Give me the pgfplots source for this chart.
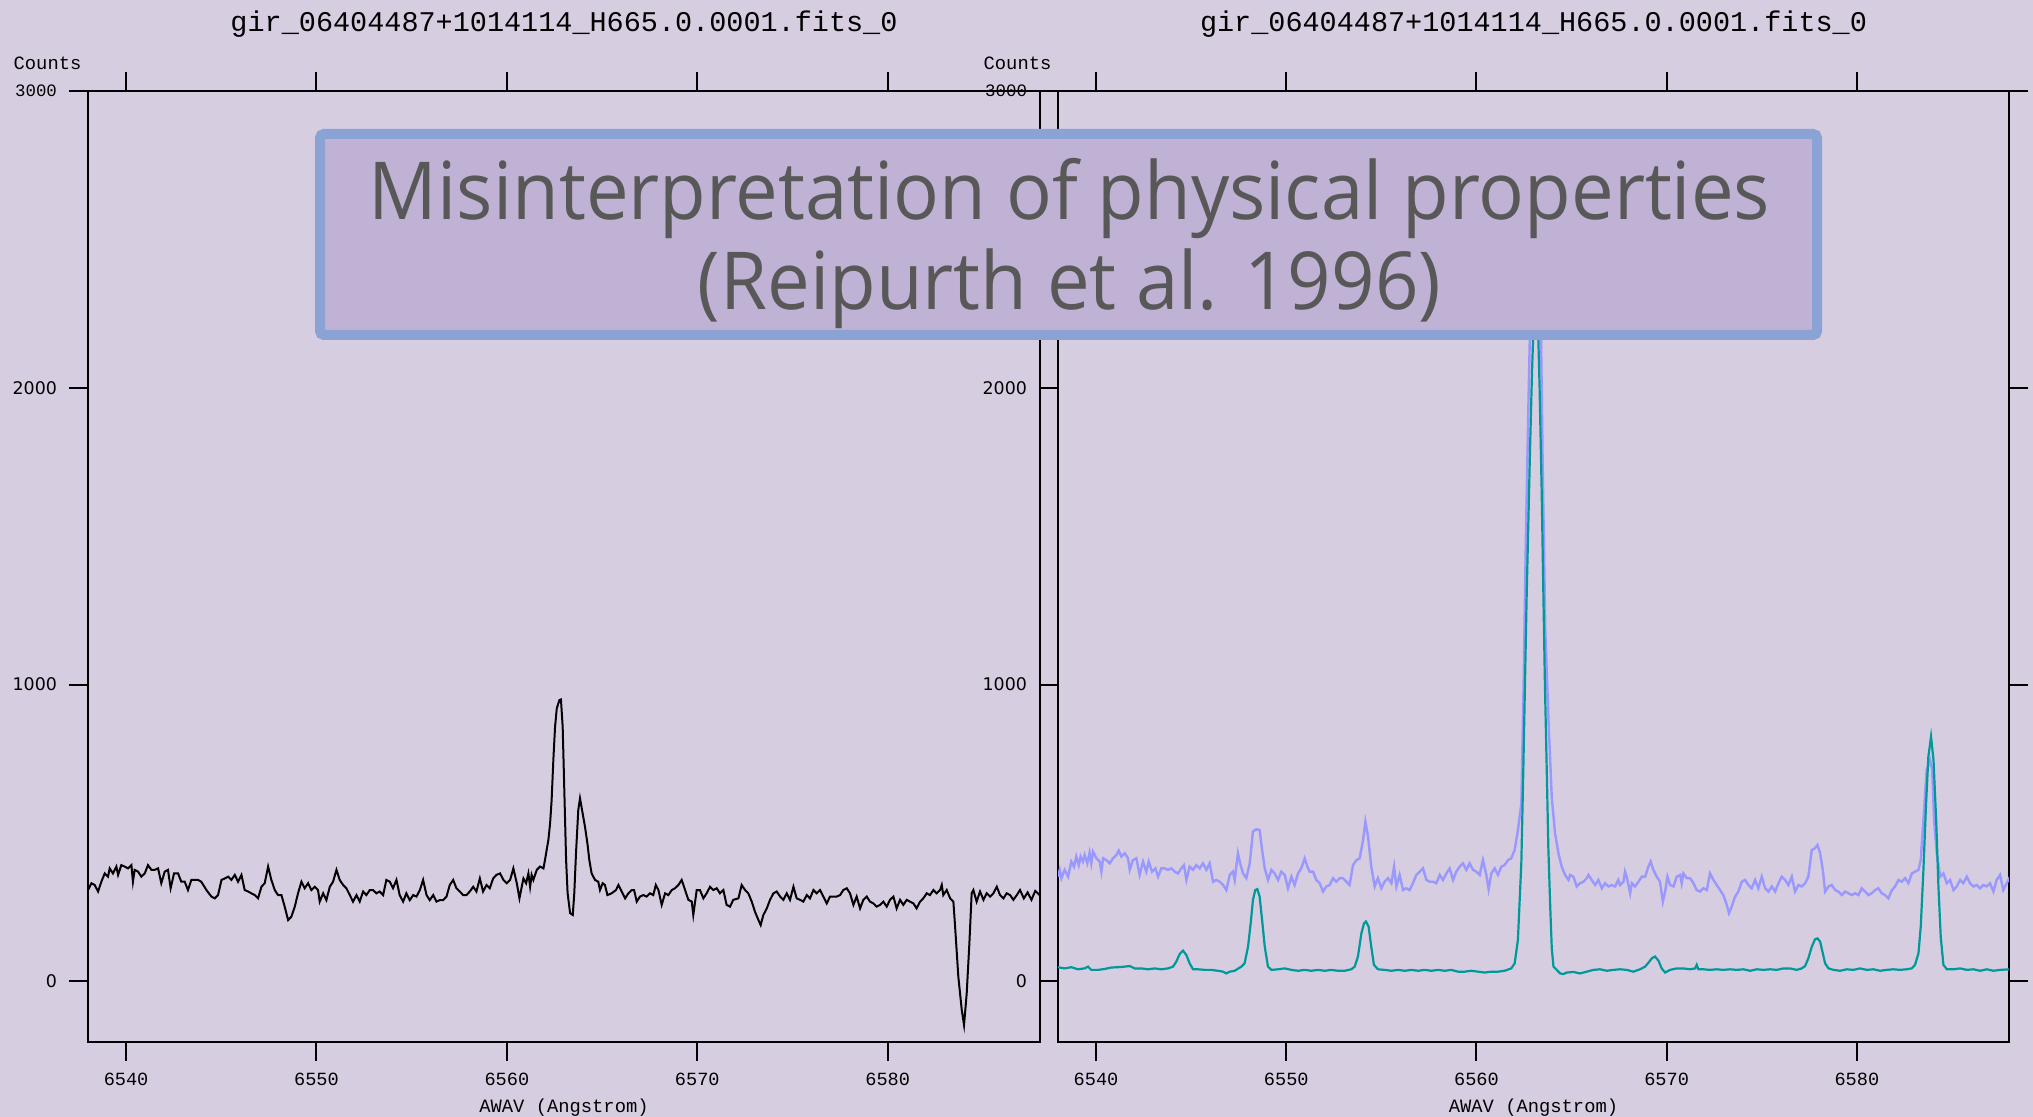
\documentclass[border=0pt]{standalone}
\usepackage{pgfplots}
\pgfplotsset{compat=1.18}
\usepackage{fontspec}
\setmainfont{Liberation Mono}
\newfontfamily\monof{Liberation Mono}
\newfontfamily\sansf{DejaVu Sans}
\newfontfamily\boxf{Open Sans}

\definecolor{bgcol}{RGB}{215,205,225}
\definecolor{boxfill}{RGB}{192,178,212}
\definecolor{boxedge}{RGB}{138,162,212}
\definecolor{boxtext}{RGB}{88,88,88}
\definecolor{obsline}{RGB}{152,152,255}
\definecolor{fitline}{RGB}{0,153,153}

\pgfplotsset{
  spec/.style={
    scale only axis, anchor=north west,
    height=475.5pt,
    xmin=6538, xmax=6588, ymin=-204, ymax=3000,
    axis line style={line width=1pt},
    every tick/.style={black, line width=1pt},
    tick align=outside, major tick length=9.5pt,
    xtick={6540,6550,6560,6570,6580},
    xticklabels={6540,6550,6560,6570,6580},
    ytick={0,1000,2000,3000},
    yticklabels={{\sansf 0},{\sansf 1000},{\sansf 2000},{\monof 3000}},
    xticklabel pos=lower, yticklabel pos=left,
    xticklabel style={font=\monof\fontsize{9.3}{10}\selectfont, anchor=base, yshift=-12pt},
    yticklabel style={font=\fontsize{8.7}{10}\selectfont, anchor=east, xshift=-2.5pt},
    title style={font=\monof\fontsize{14.25}{16}\selectfont, at={(0.5,1)}, anchor=base, yshift=23.8pt},
    every axis x label/.style={at={(rel axis cs:0.5,0)}, anchor=base, yshift=-35pt, font=\monof\fontsize{9.4}{10}\selectfont},
    every axis y label/.style={at={(rel axis cs:0,1)}, anchor=base west, xshift=-40.7pt, yshift=10.85pt, font=\monof\fontsize{9.4}{10}\selectfont},
    xlabel={AWAV (Angstrom)}, ylabel={Counts},
    title={gir\_06404487+1014114\_H665.0.0001.fits\_0},
  }
}

\begin{document}
\begin{tikzpicture}
\fill[bgcol] (0,0) rectangle (1016.5pt,-558.5pt);
\useasboundingbox (0,0) rectangle (1016.5pt,-558.5pt);

% single observed spectrum
\begin{axis}[spec, at={(44pt,-45.5pt)}, width=476pt]
\addplot[black, line width=1pt] table {
6538.00 308
6538.18 331
6538.35 325
6538.53 303
6538.70 336
6538.88 364
6539.05 353
6539.14 381
6539.31 364
6539.49 387
6539.58 359
6539.75 392
6539.93 387
6540.10 381
6540.28 392
6540.36 336
6540.45 376
6540.63 370
6540.80 353
6540.98 364
6541.15 392
6541.33 376
6541.50 376
6541.68 381
6541.85 331
6542.03 370
6542.20 376
6542.34 314
6542.52 364
6542.73 364
6542.90 336
6543.08 336
6543.25 308
6543.43 342
6543.60 342
6543.78 342
6543.95 336
6544.22 308
6544.48 286
6544.66 280
6544.83 291
6545.01 342
6545.18 347
6545.36 353
6545.53 342
6545.71 359
6545.88 336
6546.06 359
6546.23 308
6546.41 303
6546.58 297
6546.76 291
6546.93 280
6547.11 319
6547.28 331
6547.46 387
6547.63 342
6547.81 308
6547.98 291
6548.16 291
6548.33 252
6548.51 207
6548.68 218
6548.86 252
6549.03 297
6549.21 336
6549.38 314
6549.56 331
6549.73 308
6549.91 319
6550.08 308
6550.17 269
6550.35 297
6550.52 274
6550.70 319
6550.87 336
6551.05 376
6551.22 342
6551.40 325
6551.57 314
6551.75 291
6551.92 269
6552.10 291
6552.27 269
6552.45 303
6552.62 291
6552.80 308
6552.97 308
6553.15 297
6553.32 303
6553.50 291
6553.67 342
6553.85 336
6554.02 314
6554.20 342
6554.37 291
6554.55 269
6554.72 297
6554.90 274
6555.08 291
6555.25 286
6555.43 308
6555.60 342
6555.78 291
6555.95 274
6556.13 291
6556.30 269
6556.48 274
6556.65 274
6556.83 286
6557.00 325
6557.18 342
6557.35 314
6557.53 303
6557.70 291
6557.88 291
6558.05 303
6558.23 319
6558.40 303
6558.58 347
6558.75 303
6558.93 325
6559.10 314
6559.28 347
6559.45 359
6559.64 364
6559.82 342
6559.99 331
6560.17 342
6560.34 381
6560.52 331
6560.66 280
6560.78 319
6560.87 347
6561.01 331
6561.13 364
6561.22 319
6561.30 359
6561.39 342
6561.57 376
6561.74 387
6561.92 381
6562.00 409
6562.18 477
6562.27 533
6562.35 611
6562.44 746
6562.53 858
6562.62 920
6562.76 948
6562.84 950
6562.93 858
6563.02 634
6563.11 409
6563.19 297
6563.32 230
6563.46 224
6563.54 297
6563.63 432
6563.75 578
6563.84 617
6563.98 566
6564.10 522
6564.23 465
6564.33 409
6564.45 364
6564.63 342
6564.80 336
6564.89 308
6565.03 331
6565.15 325
6565.28 291
6565.50 297
6565.73 308
6565.86 325
6566.03 303
6566.21 280
6566.38 297
6566.56 308
6566.68 308
6566.82 269
6566.99 286
6567.17 291
6567.34 286
6567.52 297
6567.69 291
6567.82 325
6567.96 308
6568.13 258
6568.31 297
6568.48 291
6568.66 308
6568.83 314
6569.01 325
6569.18 342
6569.36 308
6569.53 275
6569.71 269
6569.79 224
6569.97 308
6570.14 308
6570.32 280
6570.49 297
6570.67 319
6570.84 308
6571.02 314
6571.19 297
6571.37 308
6571.54 258
6571.72 252
6571.89 275
6572.16 280
6572.33 325
6572.51 308
6572.68 297
6572.86 269
6573.03 235
6573.21 207
6573.33 190
6573.47 224
6573.65 246
6573.82 275
6574.00 297
6574.17 303
6574.35 286
6574.52 275
6574.70 297
6574.87 275
6575.05 319
6575.22 280
6575.40 275
6575.57 269
6575.75 291
6575.92 280
6576.10 308
6576.27 297
6576.45 308
6576.62 286
6576.80 263
6576.97 286
6577.15 286
6577.32 286
6577.50 291
6577.67 308
6577.85 314
6578.02 297
6578.20 258
6578.37 286
6578.55 246
6578.72 275
6578.90 286
6579.07 269
6579.25 263
6579.42 252
6579.60 258
6579.77 269
6579.95 252
6580.12 275
6580.30 286
6580.47 246
6580.65 275
6580.82 258
6581.00 275
6581.17 269
6581.35 263
6581.52 246
6581.70 269
6581.87 280
6582.05 297
6582.22 291
6582.40 308
6582.57 297
6582.75 308
6582.84 325
6582.92 291
6583.10 308
6583.28 280
6583.45 269
6583.54 185
6583.71 16
6583.89 -96
6584.01 -147
6584.15 -40
6584.29 128
6584.41 297
6584.50 308
6584.67 269
6584.85 303
6585.03 275
6585.20 297
6585.38 286
6585.55 297
6585.73 319
6585.90 291
6586.08 280
6586.25 297
6586.43 291
6586.60 275
6586.78 291
6586.95 308
6587.15 280
6587.35 300
6587.55 275
6587.75 305
6588.00 290
};
\end{axis}

% observed spectrum and fitted model
\begin{axis}[spec, at={(529pt,-45.5pt)}, width=475.5pt]
\addplot[obsline, line width=1.2pt] table {
6538.00 353
6538.09 376
6538.18 348
6538.35 376
6538.53 353
6538.70 404
6538.84 387
6538.96 421
6539.09 392
6539.19 421
6539.31 404
6539.40 426
6539.54 398
6539.66 434
6539.75 398
6539.84 437
6540.02 415
6540.19 404
6540.28 370
6540.37 415
6540.54 409
6540.72 398
6540.89 415
6541.07 426
6541.19 441
6541.33 421
6541.51 432
6541.68 415
6541.77 376
6541.94 409
6542.12 415
6542.29 359
6542.47 404
6542.64 370
6542.77 404
6542.94 370
6543.12 381
6543.26 353
6543.43 381
6543.61 381
6543.78 376
6543.96 381
6544.13 370
6544.31 364
6544.48 381
6544.62 392
6544.75 342
6544.92 387
6545.10 376
6545.27 392
6545.45 381
6545.62 398
6545.80 376
6545.97 398
6546.15 336
6546.32 342
6546.50 336
6546.68 325
6546.85 308
6547.03 359
6547.20 370
6547.29 342
6547.46 432
6547.60 392
6547.73 364
6547.90 348
6548.08 398
6548.25 505
6548.43 513
6548.60 510
6548.73 443
6548.87 381
6549.04 342
6549.22 376
6549.39 364
6549.57 342
6549.74 370
6549.92 359
6550.09 314
6550.27 353
6550.44 325
6550.62 364
6550.79 381
6550.97 415
6551.11 387
6551.23 370
6551.41 370
6551.58 342
6551.76 331
6551.93 303
6552.11 320
6552.28 325
6552.46 348
6552.63 336
6552.81 348
6552.98 348
6553.16 336
6553.33 325
6553.51 392
6553.69 409
6553.86 415
6554.04 477
6554.16 539
6554.30 488
6554.47 387
6554.65 320
6554.82 348
6555.00 314
6555.17 336
6555.35 348
6555.53 331
6555.67 387
6555.79 320
6555.96 359
6556.14 308
6556.31 314
6556.49 308
6556.66 331
6556.84 359
6557.02 370
6557.19 381
6557.37 342
6557.54 336
6557.72 336
6557.89 331
6558.07 359
6558.24 342
6558.42 364
6558.59 381
6558.77 342
6558.94 370
6559.12 387
6559.29 398
6559.47 376
6559.64 398
6559.82 376
6559.99 370
6560.17 359
6560.34 409
6560.52 359
6560.64 311
6560.78 364
6560.96 381
6561.13 359
6561.31 387
6561.48 392
6561.66 409
6561.83 415
6562.01 443
6562.18 510
6562.36 600
6562.48 1000
6562.60 1500
6562.75 2000
6562.90 2450
6563.05 2700
6563.20 2700
6563.35 2400
6563.48 1750
6563.62 1180
6563.80 860
6563.96 620
6564.13 500
6564.31 432
6564.48 387
6564.66 359
6564.84 342
6564.92 359
6565.10 353
6565.27 320
6565.45 331
6565.62 336
6565.80 348
6565.89 359
6566.06 342
6566.24 325
6566.41 342
6566.59 314
6566.76 331
6566.94 320
6567.11 325
6567.29 320
6567.46 342
6567.55 325
6567.73 336
6567.81 370
6567.90 353
6568.08 297
6568.17 331
6568.34 320
6568.52 336
6568.69 353
6568.87 353
6569.04 387
6569.16 404
6569.30 376
6569.48 353
6569.65 336
6569.80 269
6569.92 303
6570.04 353
6570.18 325
6570.36 320
6570.53 353
6570.71 359
6570.79 331
6570.88 364
6571.06 348
6571.23 348
6571.41 331
6571.58 308
6571.76 303
6571.93 314
6572.11 308
6572.28 364
6572.46 342
6572.63 325
6572.81 308
6572.98 291
6573.16 258
6573.28 230
6573.42 252
6573.60 286
6573.77 303
6573.95 336
6574.12 342
6574.30 325
6574.47 314
6574.65 342
6574.82 314
6575.00 353
6575.18 314
6575.35 303
6575.53 320
6575.70 303
6575.88 331
6576.05 353
6576.23 342
6576.40 325
6576.58 353
6576.75 303
6576.93 325
6577.10 320
6577.28 331
6577.45 353
6577.63 443
6577.80 449
6577.93 460
6578.07 432
6578.21 376
6578.33 303
6578.51 320
6578.68 325
6578.86 308
6579.03 303
6579.21 291
6579.38 303
6579.56 297
6579.73 291
6579.91 297
6580.08 291
6580.26 314
6580.43 303
6580.61 291
6580.78 297
6580.96 308
6581.13 314
6581.31 297
6581.48 291
6581.66 280
6581.84 308
6582.01 320
6582.19 342
6582.36 336
6582.54 348
6582.71 331
6582.89 364
6583.06 370
6583.24 376
6583.36 409
6583.50 544
6583.67 713
6583.85 746
6583.96 713
6584.06 544
6584.20 432
6584.38 353
6584.55 364
6584.73 331
6584.90 342
6585.08 308
6585.25 320
6585.43 342
6585.60 331
6585.78 353
6585.95 331
6586.13 320
6586.30 325
6586.48 314
6586.65 325
6586.83 320
6587.00 331
6587.18 303
6587.35 342
6587.53 359
6587.70 308
6587.88 331
6588.06 353
};
\addplot[fitline, line width=1.1pt] table {
6538.00 48
6538.35 44
6538.70 48
6539.05 41
6539.40 44
6539.58 50
6539.75 39
6540.10 39
6540.45 42
6540.80 47
6541.15 48
6541.51 50
6541.77 52
6542.03 44
6542.38 44
6542.73 41
6543.08 44
6543.43 41
6543.78 44
6544.05 50
6544.22 67
6544.40 93
6544.57 104
6544.75 89
6544.92 61
6545.10 41
6545.36 41
6545.71 39
6546.06 39
6546.41 36
6546.68 33
6546.85 27
6547.03 33
6547.29 36
6547.64 50
6547.81 61
6547.99 117
6548.13 196
6548.25 275
6548.37 308
6548.48 311
6548.60 286
6548.73 207
6548.87 117
6549.04 50
6549.22 39
6549.57 41
6549.92 44
6550.27 39
6550.62 36
6550.97 39
6551.32 36
6551.67 39
6552.02 36
6552.37 39
6552.72 36
6553.07 36
6553.42 41
6553.60 50
6553.77 84
6553.95 162
6554.09 196
6554.19 202
6554.33 185
6554.47 117
6554.61 56
6554.82 41
6555.17 39
6555.53 36
6555.88 39
6556.23 36
6556.58 39
6556.93 36
6557.28 39
6557.63 36
6557.98 39
6558.33 36
6558.68 39
6559.03 33
6559.38 33
6559.73 36
6560.08 33
6560.43 30
6560.78 33
6561.13 33
6561.48 36
6561.83 44
6562.01 61
6562.18 140
6562.36 400
6562.46 700
6562.55 1000
6562.64 1300
6562.73 1550
6562.82 1800
6562.92 2050
6563.02 2250
6563.12 2330
6563.22 2250
6563.32 2000
6563.43 1650
6563.52 1300
6563.60 1000
6563.70 700
6563.78 450
6563.88 250
6563.96 112
6564.05 50
6564.22 39
6564.40 27
6564.57 25
6564.75 30
6565.10 32
6565.45 27
6565.80 33
6566.15 39
6566.50 41
6566.85 36
6567.20 39
6567.55 41
6567.90 39
6568.25 33
6568.60 41
6568.87 50
6569.04 63
6569.22 78
6569.39 84
6569.57 70
6569.74 44
6569.92 30
6570.18 39
6570.53 44
6570.88 44
6571.23 41
6571.50 44
6571.58 56
6571.67 41
6571.93 41
6572.28 39
6572.63 41
6572.98 39
6573.33 41
6573.69 39
6574.04 41
6574.39 36
6574.74 41
6575.09 39
6575.44 41
6575.79 39
6576.14 44
6576.49 44
6576.84 39
6577.10 44
6577.28 52
6577.45 78
6577.63 117
6577.80 142
6577.93 145
6578.07 134
6578.21 95
6578.33 61
6578.51 44
6578.77 39
6579.12 36
6579.47 41
6579.82 39
6580.17 44
6580.52 39
6580.87 41
6581.22 36
6581.57 39
6581.92 41
6582.27 39
6582.62 41
6582.89 44
6583.06 56
6583.24 95
6583.36 185
6583.50 376
6583.64 600
6583.76 757
6583.90 825
6584.03 746
6584.17 544
6584.29 319
6584.41 151
6584.55 56
6584.73 41
6585.08 41
6585.43 44
6585.78 39
6586.13 41
6586.48 36
6586.83 41
6587.18 36
6587.53 39
6588.06 41
};
\end{axis}

% caption panel laid over both plots
\draw[line width=5pt, draw=boxedge, fill=boxfill, rounded corners=2pt]
  (160pt,-67pt) rectangle (908.5pt,-167.5pt);
\node[anchor=base, text=boxtext, inner sep=0pt] at (534.75pt,-110pt)
  {\resizebox{700.5pt}{\height}{\boxf\fontsize{40}{48}\selectfont Misinterpretation of physical properties}};
\node[anchor=base, text=boxtext, inner sep=0pt] at (534.75pt,-155pt)
  {\resizebox{371.5pt}{\height}{\boxf\fontsize{40}{48}\selectfont (Reipurth et al. 1996)}};
\end{tikzpicture}
\end{document}
